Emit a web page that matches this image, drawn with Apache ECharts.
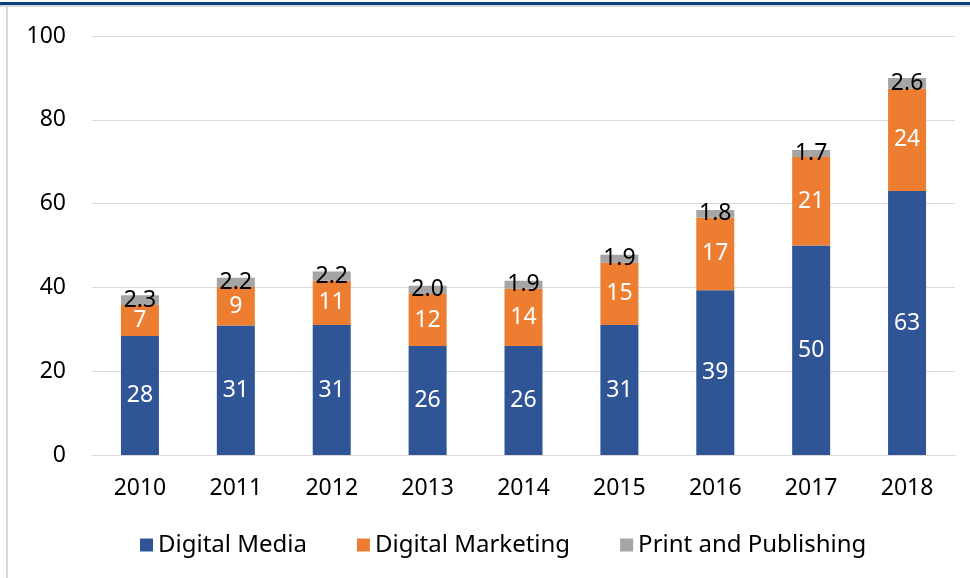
<!DOCTYPE html>
<html>
<head>
<meta charset="utf-8">
<script src="https://cdn.jsdelivr.net/npm/echarts@6/dist/echarts.min.js"></script>
<style>
  html, body { margin: 0; padding: 0; background: #fff; }
  #chart { width: 970px; height: 578px; }
</style>
</head>
<body>
<div id="chart"></div>
<script>
var years = ['2010', '2011', '2012', '2013', '2014', '2015', '2016', '2017', '2018'];
var digitalMedia = [28.4, 30.9, 31.0, 26.0, 26.0, 31.0, 39.3, 50.0, 63.0];
var digitalMarketing = [7.4, 9.2, 10.6, 12.4, 13.7, 14.9, 17.4, 21.1, 24.4];
var printPublishing = [2.3, 2.2, 2.2, 2.0, 1.9, 1.9, 1.8, 1.7, 2.6];
var yTicks = [0, 20, 40, 60, 80, 100];

var font = 'Noto Sans';
var chart = echarts.init(document.getElementById('chart'));

function roundLabel(p) { return Math.round(p.value); }
function decLabel(p) { return p.value.toFixed(1); }

var option = {
  animation: false,
  textStyle: { fontFamily: font },
  graphic: [
    { type: 'rect', shape: { x: 0, y: 2, width: 970, height: 3 }, style: { fill: '#0b3d80' } },
    { type: 'rect', shape: { x: 0, y: 5, width: 970, height: 2 }, style: { fill: '#d9d9d9' } },
    { type: 'rect', shape: { x: 6, y: 7, width: 2, height: 571 }, style: { fill: '#d9d9d9' } }
  ],
  legend: {
    bottom: 16,
    left: 135,
    itemWidth: 13,
    itemHeight: 13,
    itemGap: 50,
    icon: 'rect',
    textStyle: { fontSize: 24, color: '#000', fontFamily: font },
    data: ['Digital Media', 'Digital Marketing', 'Print and Publishing']
  },
  grid: { left: 92, right: 15, top: 36, bottom: 123, containLabel: false },
  xAxis: {
    type: 'category',
    data: years,
    axisTick: { show: false },
    axisLine: { lineStyle: { color: '#d9d9d9' } },
    axisLabel: { fontSize: 23, color: '#000', margin: 22 }
  },
  yAxis: {
    type: 'value',
    min: yTicks[0],
    max: yTicks[yTicks.length - 1],
    interval: 20,
    axisLine: { show: false },
    axisTick: { show: false },
    splitLine: { lineStyle: { color: '#d9d9d9' } },
    axisLabel: { fontSize: 23, color: '#000', margin: 26 }
  },
  series: [
    {
      name: 'Digital Media',
      type: 'bar',
      stack: 'total',
      barWidth: 38,
      data: digitalMedia,
      itemStyle: { color: '#2f5597' },
      label: { show: true, position: 'inside', color: '#fff', fontSize: 23, formatter: roundLabel }
    },
    {
      name: 'Digital Marketing',
      type: 'bar',
      stack: 'total',
      data: digitalMarketing,
      itemStyle: { color: '#ed7d31' },
      label: { show: true, position: 'inside', color: '#fff', fontSize: 23, formatter: roundLabel }
    },
    {
      name: 'Print and Publishing',
      type: 'bar',
      stack: 'total',
      data: printPublishing,
      itemStyle: { color: '#a5a5a5' },
      label: { show: true, position: 'inside', color: '#000', fontSize: 23, formatter: decLabel }
    }
  ]
};
chart.setOption(option);
</script>
</body>
</html>
